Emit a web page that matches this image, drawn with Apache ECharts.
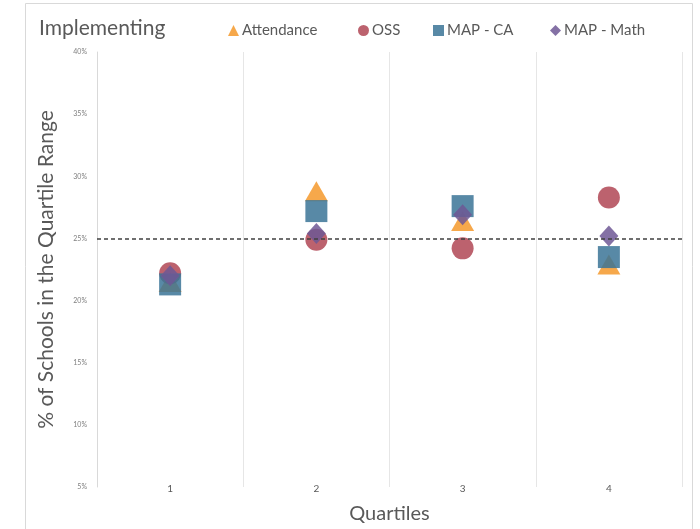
<!DOCTYPE html>
<html>
<head>
<meta charset="utf-8">
<script src="https://cdn.jsdelivr.net/npm/echarts@6/dist/echarts.min.js"></script>
<style>
  html, body { margin: 0; padding: 0; background: #fff; }
  #chart { width: 700px; height: 529px; }
</style>
</head>
<body>
<div id="chart"></div>
<script>
// quartile categories and % of schools per measure
var quartiles = ['1', '2', '3', '4'];
var attendance = [21.5, 28.8, 26.4, 22.9];
var oss = [22.2, 24.9, 24.2, 28.3];
var mapCA = [21.3, 27.2, 27.6, 23.5];
var mapMath = [22.0, 25.4, 26.9, 25.2];
var reference = 25;
var yTicks = {min: 5, max: 40, step: 5};

var FONT = 'Lato, "Open Sans", sans-serif';
var TEXT = '#595959';

var chart = echarts.init(document.getElementById('chart'));

function legendAt(name, left) {
    return {
        data: [name],
        left: left,
        top: 18,
        itemWidth: 11,
        itemHeight: 11,
        itemGap: 0,
        textStyle: {fontFamily: FONT, fontSize: 15, color: TEXT, padding: [0, 0, 0, -2]}
    };
}

function scatter(name, values, symbol, size, color) {
    return {
        name: name,
        type: 'scatter',
        symbol: symbol,
        symbolSize: size,
        itemStyle: {color: color, opacity: 0.85},
        data: values
    };
}

var series = [
    scatter('Attendance', attendance, 'triangle', [23, 20], '#F5992B'),
    scatter('OSS', oss, 'circle', 22, '#B04755'),
    scatter('MAP - CA', mapCA, 'rect', 22, '#3B7497'),
    scatter('MAP - Math', mapMath, 'diamond', [19, 21], '#6F5895')
];
series[0].markLine = {
    silent: true,
    symbol: 'none',
    label: {show: false},
    lineStyle: {color: '#404040', type: [4, 3], width: 1.5},
    data: [{yAxis: reference}]
};

var option = {
    animation: false,
    graphic: [{
        type: 'rect',
        shape: {x: 25.5, y: 3.5, width: 667, height: 540},
        style: {fill: 'none', stroke: '#d9d9d9', lineWidth: 1},
        silent: true
    }],
    title: {
        text: 'Implementing',
        left: 34,
        top: 13,
        textStyle: {fontFamily: FONT, fontSize: 21, fontWeight: 'normal', color: TEXT}
    },
    legend: [
        legendAt('Attendance', 223),
        legendAt('OSS', 353),
        legendAt('MAP - CA', 428),
        legendAt('MAP - Math', 545)
    ],
    grid: {left: 97, right: 18, top: 52, bottom: 41},
    xAxis: {
        type: 'category',
        data: quartiles,
        boundaryGap: true,
        name: 'Quartiles',
        nameLocation: 'middle',
        nameGap: 17,
        nameTextStyle: {fontFamily: FONT, fontSize: 20, color: TEXT},
        axisLine: {show: false},
        axisTick: {show: false},
        axisLabel: {fontFamily: FONT, fontSize: 10, color: TEXT, margin: -3},
        splitLine: {show: true, lineStyle: {color: '#e6e6e6', width: 1}}
    },
    yAxis: {
        type: 'value',
        min: yTicks.min,
        max: yTicks.max,
        interval: yTicks.step,
        name: '% of Schools in the Quartile Range',
        nameLocation: 'middle',
        nameGap: 40,
        nameTextStyle: {fontFamily: FONT, fontSize: 21, color: TEXT},
        axisLine: {show: true, lineStyle: {color: '#d9d9d9'}},
        axisTick: {show: false},
        axisLabel: {fontFamily: FONT, fontSize: 7, color: '#7f7f7f', margin: 10, formatter: '{value}%'},
        splitLine: {show: false}
    },
    series: series
};

chart.setOption(option);
</script>
</body>
</html>
